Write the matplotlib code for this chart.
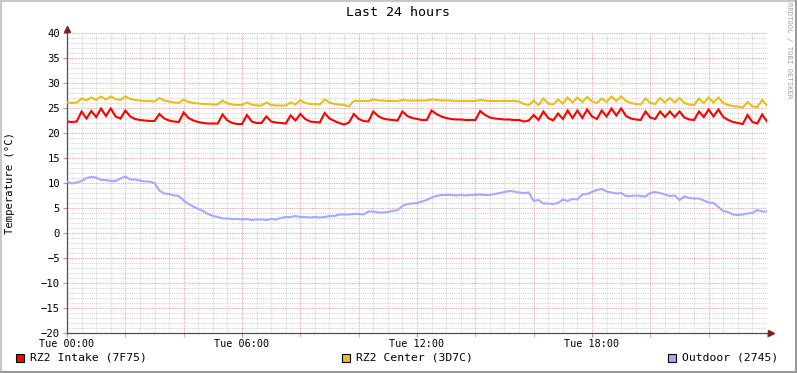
import matplotlib.pyplot as plt
import matplotlib.patches as mpatches
import numpy as np

plt.rcParams['font.family'] = 'DejaVu Sans Mono'

# 10-minute samples over the last 24 hours (hours since Tue 00:00)
hours = np.arange(145) / 6.0

intake = [22.3, 22.2, 22.3, 24.3, 22.9, 24.4, 23.2, 24.9, 23.4, 24.9,
          23.3, 22.9, 24.5, 23.3, 22.8, 22.6, 22.5, 22.4, 22.4, 23.8,
          22.9, 22.5, 22.3, 22.2, 24.1, 23.0, 22.5, 22.2, 22.0, 21.9,
          21.9, 21.9, 23.7, 22.5, 22.0, 21.8, 21.8, 23.6, 22.3, 22.0,
          22.0, 23.3, 22.3, 22.1, 22.0, 21.9, 23.5, 22.5, 23.8, 22.8,
          22.3, 22.2, 22.1, 24.0, 22.9, 22.4, 22.0, 21.7, 22.1, 23.8,
          22.8, 22.4, 22.3, 24.3, 23.4, 22.9, 22.7, 22.6, 22.5, 24.3,
          23.4, 23.0, 22.8, 22.6, 22.6, 24.5, 23.8, 23.3, 23.0, 22.8,
          22.7, 22.7, 22.6, 22.6, 22.6, 24.4, 23.6, 23.1, 22.9, 22.8,
          22.7, 22.7, 22.6, 22.6, 22.3, 22.5, 23.6, 22.6, 24.3, 23.0,
          22.5, 23.9, 22.8, 24.5, 23.0, 24.5, 23.0, 24.7, 23.3, 22.8,
          24.5, 23.3, 24.9, 23.5, 24.9, 23.4, 22.9, 22.7, 22.6, 24.3,
          23.1, 22.8, 24.3, 23.2, 24.3, 23.2, 24.3, 23.1, 22.7, 22.6,
          24.3, 23.2, 24.7, 23.3, 24.7, 23.2, 22.6, 22.2, 22.0, 21.8,
          23.6, 22.2, 21.9, 23.7, 22.3]

center = [26.1, 26.0, 26.1, 26.9, 26.5, 27.1, 26.6, 27.3, 26.7, 27.3,
          26.8, 26.6, 27.3, 26.8, 26.6, 26.5, 26.4, 26.4, 26.3, 27.0,
          26.5, 26.3, 26.1, 26.0, 26.7, 26.2, 26.0, 25.9, 25.8, 25.8,
          25.7, 25.7, 26.5, 25.9, 25.7, 25.6, 25.6, 26.1, 25.7, 25.5,
          25.5, 26.1, 25.6, 25.5, 25.5, 25.5, 26.1, 25.7, 26.6, 26.0,
          25.8, 25.8, 25.7, 26.7, 26.1, 25.8, 25.7, 25.6, 25.3, 26.4,
          26.4, 26.4, 26.4, 26.7, 26.5, 26.5, 26.4, 26.4, 26.4, 26.6,
          26.5, 26.5, 26.5, 26.5, 26.5, 26.7, 26.6, 26.5, 26.5, 26.5,
          26.4, 26.4, 26.4, 26.4, 26.4, 26.6, 26.5, 26.4, 26.4, 26.4,
          26.4, 26.4, 26.4, 26.3, 25.8, 25.6, 26.5, 25.6, 26.9, 25.9,
          25.7, 26.7, 25.9, 27.1, 26.1, 27.1, 26.2, 27.2, 26.3, 26.0,
          26.9, 26.2, 27.3, 26.4, 27.3, 26.4, 26.0, 25.8, 25.7, 26.9,
          26.0, 25.8, 27.0, 26.1, 27.0, 26.1, 27.0, 26.0, 25.7, 25.6,
          26.9, 26.0, 27.1, 26.1, 27.1, 26.0, 25.6, 25.4, 25.3, 25.1,
          26.2, 25.3, 25.2, 26.6, 25.5]

outdoor = [10.3, 9.9, 10.1, 10.4, 11.0, 11.2, 11.1, 10.6, 10.6, 10.4,
           10.4, 10.9, 11.3, 10.7, 10.7, 10.5, 10.3, 10.3, 10.0, 8.5,
           7.9, 7.8, 7.5, 7.4, 6.5, 5.8, 5.3, 4.8, 4.4, 3.8,
           3.4, 3.2, 2.9, 2.9, 2.8, 2.8, 2.7, 2.8, 2.6, 2.7,
           2.7, 2.6, 2.8, 2.7, 3.0, 3.2, 3.2, 3.4, 3.2, 3.2,
           3.1, 3.2, 3.1, 3.2, 3.4, 3.4, 3.7, 3.7, 3.7, 3.8,
           3.8, 3.7, 4.3, 4.3, 4.1, 4.1, 4.2, 4.4, 4.6, 5.4,
           5.8, 5.9, 6.0, 6.3, 6.6, 7.1, 7.4, 7.6, 7.6, 7.6,
           7.5, 7.6, 7.5, 7.6, 7.6, 7.7, 7.6, 7.6, 7.8, 8.0,
           8.2, 8.4, 8.3, 8.1, 8.0, 8.1, 6.4, 6.6, 5.9, 5.9,
           5.8, 6.0, 6.7, 6.4, 6.8, 6.7, 7.7, 7.8, 8.2, 8.6,
           8.8, 8.3, 8.1, 7.9, 8.0, 7.4, 7.4, 7.5, 7.4, 7.3,
           8.0, 8.2, 8.0, 7.7, 7.4, 7.5, 6.6, 7.3, 7.0, 6.9,
           6.9, 6.5, 6.1, 6.0, 5.2, 4.4, 4.2, 3.7, 3.6, 3.7,
           3.9, 4.0, 4.6, 4.3, 4.3]

labels = ['RZ2 Intake (7F75)', 'RZ2 Center (3D7C)', 'Outdoor (2745)']
colors = ['#FF0000', '#E8BE1C', '#A8A8FF']
xtick_pos = [0, 6, 12, 18]
xtick_labels = ['Tue 00:00', 'Tue 06:00', 'Tue 12:00', 'Tue 18:00']

W, H = 797, 373
fig = plt.figure(figsize=(W / 100, H / 100), dpi=100, facecolor='white')
ax = fig.add_axes([67 / W, (H - 333) / H, 700 / W, 300 / H])

# grid: gray every 30 min / 1 degree, red every 2 h / 5 degrees
for x in np.arange(0.5, 24, 0.5):
    major = abs(x / 2 - round(x / 2)) < 1e-6
    ax.axvline(x, color='#E8A8A8' if major else '#D4D4D4', lw=0.8,
               ls=(0, (1, 1)), zorder=0)
for y in range(-19, 41):
    major = y % 5 == 0
    ax.axhline(y, color='#E8A8A8' if major else '#D4D4D4', lw=0.8,
               ls=(0, (1, 1)), zorder=0)

for series, c in zip([intake, center, outdoor], colors):
    ax.plot(hours, series, color=c, lw=1.5, solid_joinstyle='miter', zorder=3)

ax.set_xlim(0, 24)
ax.set_ylim(-20, 40)
ax.set_xticks(xtick_pos)
ax.set_xticklabels(xtick_labels)
ax.set_xticks(np.arange(0, 24.01, 2), minor=True)
ax.set_yticks(range(-20, 41, 5))
ax.tick_params(axis='both', which='major', length=3, width=0.8, color='#D09090',
               labelsize=7.3, pad=1.5, labelcolor='black')
ax.tick_params(axis='x', which='minor', length=3, width=0.8, color='#E8A8A8')
ax.tick_params(axis='y', which='major', pad=2, labelsize=7.6)

for s in ['top', 'right']:
    ax.spines[s].set_visible(False)
for s in ['left', 'bottom']:
    ax.spines[s].set_color('#505050')
    ax.spines[s].set_linewidth(0.9)
ax.set_facecolor('white')

# axis arrows
ax.plot([0], [40.8], marker='^', color='#802020', ms=4, clip_on=False, zorder=5)
ax.plot([0, 0], [40, 40.8], color='#505050', lw=0.9, clip_on=False)
ax.plot([24.15], [-20], marker='>', color='#802020', ms=4, clip_on=False, zorder=5)
ax.plot([24, 24.15], [-20, -20], color='#505050', lw=0.9, clip_on=False)

fig.text(10 / W, 1 - 183 / H, 'Temperature (°C)', rotation=90,
         ha='center', va='center', fontsize=7.6)
fig.text(398 / W, 1 - 13 / H, 'Last 24 hours', ha='center', va='center', fontsize=9.5)
fig.text(789 / W, 1 - 50 / H, 'RRDTOOL / TOBI OETIKER', rotation=270,
         ha='center', va='center', fontsize=5.2, color='#A0A0A0')

# legend
leg_x = [16, 342, 668]
for lx, lab, c in zip(leg_x, labels, colors):
    fig.patches.append(mpatches.Rectangle((lx / W, 1 - 362 / H), 8 / W, 8 / H,
                                          transform=fig.transFigure,
                                          facecolor=c, edgecolor='black', lw=0.8))
    fig.text((lx + 14) / W, 1 - 358 / H, lab, ha='left', va='center', fontsize=8.2)

# 3D frame
fig.patches.append(mpatches.Rectangle((0, 0), 1, 1, transform=fig.transFigure,
                                      fill=False, edgecolor='#C8C8C8', lw=3))
fig.patches.append(mpatches.Rectangle((0, 0), 1, 2 / H, transform=fig.transFigure,
                                      facecolor='#999999', edgecolor='none'))
fig.patches.append(mpatches.Rectangle((1 - 2 / W, 0), 2 / W, 1, transform=fig.transFigure,
                                      facecolor='#999999', edgecolor='none'))

fig.savefig('out.png', dpi=100)
